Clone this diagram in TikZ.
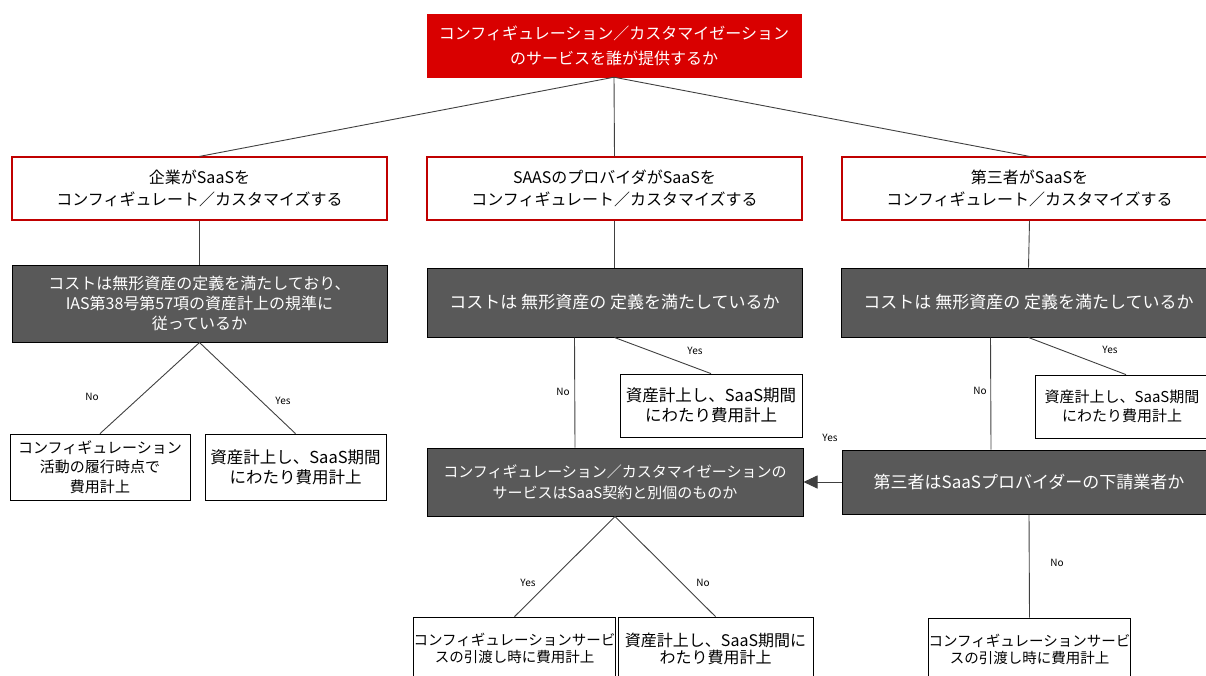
\documentclass[tikz,border=0pt]{standalone}
\usepackage{fontspec}
\setmainfont{Noto Sans CJK JP}
\usetikzlibrary{arrows.meta}
\definecolor{topred}{HTML}{D90000}
\definecolor{bordred}{HTML}{C00000}
\definecolor{darkbox}{HTML}{595959}
\definecolor{linegray}{HTML}{404040}
\begin{document}
\begin{tikzpicture}[x=1pt,y=-1pt,
  base/.style={inner sep=0pt,align=center,anchor=center},
  topbox/.style={base,fill=topred,draw=topred,text=white,font=\fontsize{16pt}{25pt}\selectfont},
  whobox/.style={base,fill=white,draw=bordred,line width=1.2pt,text=black,font=\fontsize{16pt}{22pt}\selectfont},
  qbox/.style={base,fill=darkbox,draw=black,line width=1pt,text=white,font=\fontsize{17pt}{20pt}\selectfont},
  resbox/.style={base,fill=white,draw=black,line width=0.8pt,text=black,font=\fontsize{16.5pt}{20pt}\selectfont},
  botbox/.style={base,fill=white,draw=black,line width=0.8pt,text=black,font=\fontsize{14.5pt}{17pt}\selectfont},
  conn/.style={draw=linegray,line width=0.9pt},
  lbl/.style={inner sep=0pt,font=\fontsize{10pt}{11pt}\selectfont,text=black}
]
\useasboundingbox (0,0) rectangle (1206,675);
\clip (0,0) rectangle (1206,675);

% top
\node[topbox,minimum width=374pt,minimum height=63pt] (top) at (614,45.5)
  {コンフィギュレーション／カスタマイゼーション\\のサービスを誰が提供するか};

% level 2
\node[whobox,minimum width=375pt,minimum height=63pt] (l2a) at (199.5,188.5)
  {企業がSaaSを\\コンフィギュレート／カスタマイズする};
\node[whobox,minimum width=375pt,minimum height=63pt] (l2b) at (614.5,188.5)
  {SAASのプロバイダがSaaSを\\コンフィギュレート／カスタマイズする};
\node[whobox,minimum width=375pt,minimum height=63pt] (l2c) at (1029.5,188.5)
  {第三者がSaaSを\\コンフィギュレート／カスタマイズする};

% level 3 questions
\node[qbox,font=\fontsize{16pt}{20pt}\selectfont,minimum width=375pt,minimum height=77pt] (l3a) at (199.5,303.5)
  {コストは無形資産の定義を満たしており、\\IAS第38号第57項の資産計上の規準に\\従っているか};
\node[qbox,minimum width=375pt,minimum height=69pt] (l3b) at (614.5,302.5)
  {コストは 無形資産の 定義を満たしているか};
\node[qbox,minimum width=375pt,minimum height=69pt] (l3c) at (1028.5,302.5)
  {コストは 無形資産の 定義を満たしているか};

% left results
\node[resbox,font=\fontsize{15pt}{19.5pt}\selectfont,minimum width=180pt,minimum height=66pt] (ano) at (100,467)
  {コンフィギュレーション\\活動の履行時点で\\費用計上};
\node[resbox,minimum width=181pt,minimum height=66pt] (ayes) at (295.5,467)
  {資産計上し、SaaS期間\\にわたり費用計上};

% middle yes result
\node[resbox,minimum width=182pt,minimum height=63pt] (byes) at (711,405.5)
  {資産計上し、SaaS期間\\にわたり費用計上};
% right yes result
\node[resbox,minimum width=182pt,minimum height=63pt] (cyes) at (1126,406.5) {};
\node[base,font=\fontsize{15pt}{19pt}\selectfont] (cyest) at (1122,406.5)
  {資産計上し、SaaS期間\\にわたり費用計上};

% second-level questions
\node[qbox,font=\fontsize{15pt}{21pt}\selectfont,minimum width=376pt,minimum height=68pt] (m4) at (615,482)
  {コンフィギュレーション／カスタマイゼーションの\\サービスはSaaS契約と別個のものか};
\node[qbox,minimum width=374pt,minimum height=64pt] (r4) at (1029,482)
  {第三者はSaaSプロバイダーの下請業者か};

% bottom results
\node[botbox,minimum width=195pt,minimum height=63pt] (mby) at (514.5,648.5)
  {コンフィギュレーションサービ\\スの引渡し時に費用計上};
\node[botbox,font=\fontsize{16pt}{17pt}\selectfont,minimum width=195pt,minimum height=63pt] (mbn) at (715.5,648.5)
  {資産計上し、SaaS期間に\\わたり費用計上};
\node[botbox,minimum width=195pt,minimum height=63pt] (rb) at (1029.5,649.5)
  {コンフィギュレーションサービ\\スの引渡し時に費用計上};

% connectors top
\draw[conn] (top.south) -- (l2a.north);
\draw[conn] (top.south) -- (l2b.north);
\draw[conn] (top.south) -- (l2c.north);
\draw[conn] (l2a.south) -- (l3a.north);
\draw[conn] (l2b.south) -- (l3b.north);
\draw[conn] (l2c.south) -- (l3c.north);

% left branch
\draw[conn] (l3a.south) -- (ano.north);
\draw[conn] (l3a.south) -- (ayes.north);
\node[lbl] (lno1) at (92,397) {No};
\node[lbl] (lyes1) at (283,401) {Yes};

% middle branch
\draw[conn] ([xshift=-40pt]l3b.south) -- ([xshift=-40pt]m4.north);
\draw[conn] (l3b.south) -- (byes.north);
\node[lbl] (lno2) at (563,392) {No};
\node[lbl] (lyes2) at (695,351) {Yes};

% right branch
\draw[conn] ([xshift=-38pt]l3c.south) -- ([xshift=-38pt]r4.north);
\draw[conn] (l3c.south) -- (cyes.north);
\node[lbl] (lno3) at (980,391) {No};
\node[lbl] (lyes3) at (1110,350) {Yes};

% arrow r4 -> m4
\draw[conn,-{Triangle[length=14pt,width=13pt]}] (r4.west) -- (m4.east);
\node[lbl] (lyes4) at (830,438) {Yes};

% r4 bottom
\draw[conn] (r4.south) -- (rb.north);
\node[lbl] (lno4) at (1057,563) {No};

% m4 bottom
\draw[conn] (m4.south) -- (mby.north);
\draw[conn] (m4.south) -- (mbn.north);
\node[lbl] (lyes5) at (528,583) {Yes};
\node[lbl] (lno5) at (703,583) {No};
\end{tikzpicture}
\end{document}
